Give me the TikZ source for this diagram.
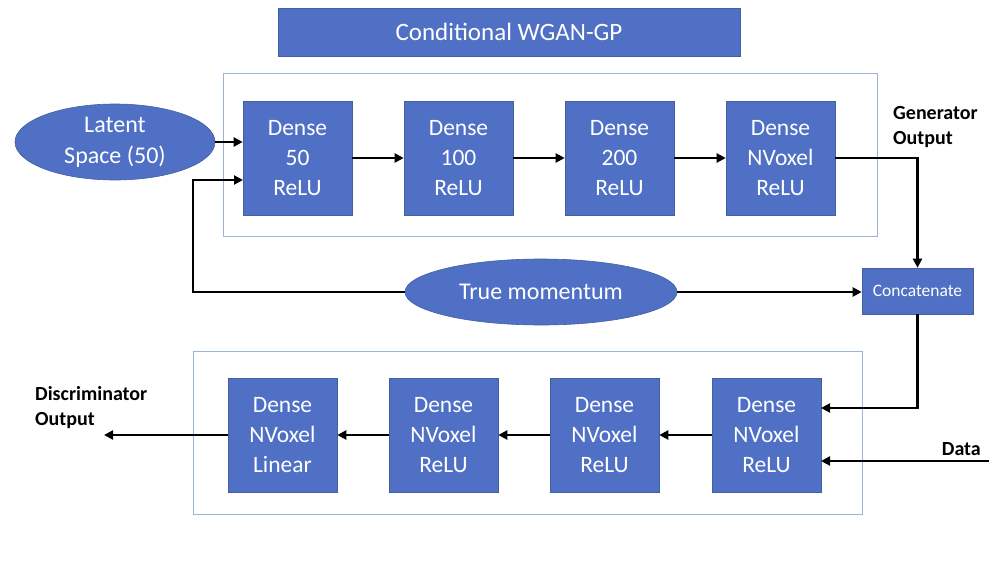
\documentclass[tikz,border=0pt]{standalone}
\usepackage{fontspec}
\setmainfont{Carlito}
\usetikzlibrary{arrows.meta,shapes.geometric}
\definecolor{blk}{HTML}{4F70C5}
\definecolor{blkedge}{HTML}{42609F}
\definecolor{frame}{HTML}{9FB2D8}
\tikzset{
  layer/.style={draw=blkedge, line width=0.6pt, fill=blk, text=white,
    minimum width=109pt, minimum height=114pt, inner sep=0pt,
    align=center, font=\fontsize{23.5}{30}\selectfont},
  bubble/.style={ellipse, draw=blkedge, line width=0.6pt, fill=blk, text=white,
    inner sep=0pt, align=center, font=\fontsize{24}{31}\selectfont},
  panel/.style={draw=frame, line width=0.9pt},
  flow/.style={draw=black, line width=2.2pt,
    -{Triangle[length=9pt,width=9pt]}},
  tag/.style={font=\fontsize{20}{25}\selectfont\bfseries, align=left, inner sep=0pt}
}
\begin{document}
\begin{tikzpicture}[x=1pt,y=-1pt]
\useasboundingbox (0,0) rectangle (989,568);

% title banner
\node[draw=blkedge, line width=0.6pt, fill=blk, text=white, minimum width=462pt,
  minimum height=48pt, inner sep=0pt, font=\fontsize{25}{30}\selectfont]
  (title) at (509,32) {Conditional WGAN-GP};

% panels around generator and discriminator
\draw[panel] (223,73) rectangle (877,236);
\draw[panel] (193,351) rectangle (862,514);

% generator
\node[bubble, minimum width=200pt, minimum height=76pt] (latent) at (115,142) {Latent\\Space (50)};
\node[layer] (g1) at (297.5,158) {Dense\\50\\ReLU};
\node[layer] (g2) at (458.5,158) {Dense\\100\\ReLU};
\node[layer] (g3) at (619.5,158) {Dense\\200\\ReLU};
\node[layer] (g4) at (780.5,158) {Dense\\NVoxel\\ReLU};

\node[tag, anchor=north west] (gout) at (893,106) {Generator\\Output};

% condition and concatenation
\node[bubble, minimum width=272pt, minimum height=66pt] (mom) at (541,292) {True momentum};
\node[draw=blkedge, line width=0.6pt, fill=blk, text=white, minimum width=111pt,
  minimum height=46pt, inner sep=0pt, font=\fontsize{17.5}{21}\selectfont]
  (cat) at (917.5,291) {Concatenate};

% discriminator
\node[layer] (d1) at (766.5,435) {Dense\\NVoxel\\ReLU};
\node[layer] (d2) at (604.5,435) {Dense\\NVoxel\\ReLU};
\node[layer] (d3) at (443.5,435) {Dense\\NVoxel\\ReLU};
\node[layer] (d4) at (282.5,435) {Dense\\NVoxel\\Linear};

\node[tag, anchor=north west] (dout) at (35,386) {Discriminator\\Output};
\node[tag, anchor=south east] (data) at (981,456) {Data};

% helper points
\coordinate (fbcorner) at (193,292);
\coordinate (g1in) at (243,180);
\coordinate (d1in) at (821,408);
\coordinate (datain) at (989,461);
\coordinate (d1data) at (821,461);
\coordinate (dend) at (104,435);

% generator flow
\draw[flow] (latent.east) -- (latent.east -| g1.west);
\draw[flow] (mom.west) -- (fbcorner) |- (g1in);
\draw[flow] (g1) -- (g2);
\draw[flow] (g2) -- (g3);
\draw[flow] (g3) -- (g4);
\draw[flow] (g4.east) -| (cat.north);
\draw[flow] (mom.east) -- (mom.east -| cat.west);

% discriminator flow
\draw[flow] (cat.south) |- (d1in);
\draw[flow] (datain) -- (d1data);
\draw[flow] (d1) -- (d2);
\draw[flow] (d2) -- (d3);
\draw[flow] (d3) -- (d4);
\draw[flow] (d4.west |- dend) -- (dend);
\end{tikzpicture}
\end{document}
